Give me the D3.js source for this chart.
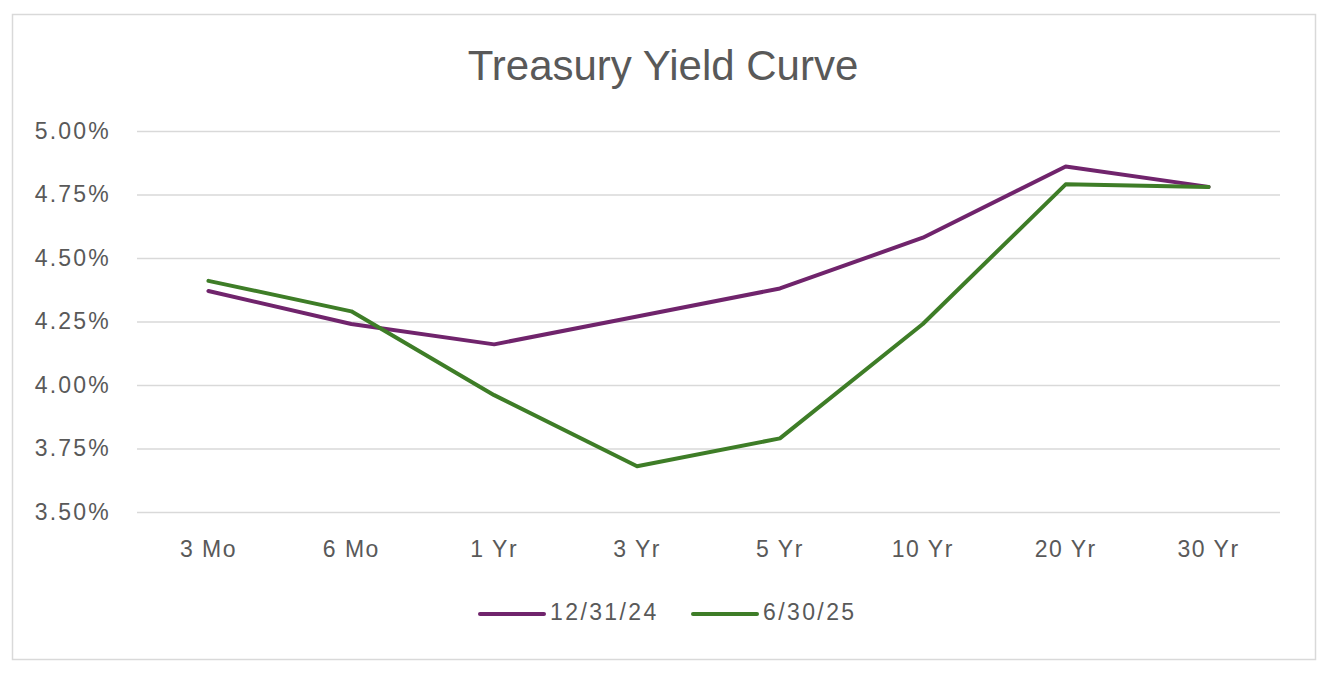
<!DOCTYPE html>
<html>
<head>
<meta charset="utf-8">
<script src="https://cdn.jsdelivr.net/npm/d3@7"></script>
<style>
  body { margin: 0; background: #fff; }
  svg { display: block; font-family: 'Liberation Sans', Arial, sans-serif; }
</style>
</head>
<body>
<div id="chart"></div>
<script>
const categories = ['3 Mo', '6 Mo', '1 Yr', '3 Yr', '5 Yr', '10 Yr', '20 Yr', '30 Yr']
const dec2024 = [4.37, 4.24, 4.16, 4.27, 4.38, 4.58, 4.86, 4.78]
const jun2025 = [4.41, 4.29, 3.96, 3.68, 3.79, 4.24, 4.79, 4.78]
const yTicks = [3.5, 3.75, 4.0, 4.25, 4.5, 4.75, 5.0]
const seriesNames = ['12/31/24', '6/30/25']
const colors = ['#70246c', '#3e7d27']

const W = 1324
const H = 678
const margin = { left: 137, right: 44, top: 131, bottom: 166 }
const width = W - margin.left - margin.right
const height = H - margin.top - margin.bottom

const svg = d3.select('#chart')
  .append('svg')
  .attr('width', W)
  .attr('height', H)

// outer chart border
svg.append('rect')
  .attr('x', 12.5)
  .attr('y', 14.5)
  .attr('width', 1303)
  .attr('height', 645)
  .attr('fill', '#fff')
  .attr('stroke', '#d9d9d9')
  .attr('stroke-width', 1.5)

svg.append('text')
  .attr('x', 663)
  .attr('y', 80)
  .attr('text-anchor', 'middle')
  .attr('font-size', '42px')
  .attr('fill', '#595959')
  .text('Treasury Yield Curve')

const g = svg.append('g')
  .attr('transform', `translate(${margin.left}, ${margin.top})`)

const x = d3.scaleBand()
  .domain(categories)
  .range([0, width])

const y = d3.scaleLinear()
  .domain([3.5, 5.0])
  .range([height, 0])

// gridlines
g.append('g')
  .call(d3.axisLeft(y).tickValues(yTicks).tickSize(-width).tickFormat(''))
  .call(a => a.select('.domain').remove())
  .call(a => a.selectAll('line').attr('stroke', '#d9d9d9').attr('stroke-width', 1.5))

// y axis labels
g.append('g')
  .call(d3.axisLeft(y).tickValues(yTicks).tickSize(0).tickPadding(26).tickFormat(d => d.toFixed(2) + '%'))
  .call(a => a.select('.domain').remove())
  .call(a => a.selectAll('text')
    .attr('font-size', '23px')
    .attr('letter-spacing', '2.2px')
    .attr('fill', '#595959')
    .attr('font-family', "'Liberation Sans', Arial, sans-serif"))

// x axis labels
g.append('g')
  .attr('transform', `translate(0, ${height})`)
  .call(d3.axisBottom(x).tickSize(0).tickPadding(29))
  .call(a => a.select('.domain').remove())
  .call(a => a.selectAll('text')
    .attr('font-size', '23px')
    .attr('letter-spacing', '1.5px')
    .attr('fill', '#595959')
    .attr('font-family', "'Liberation Sans', Arial, sans-serif"))

const line = d3.line()
  .x((d, i) => x(categories[i]) + x.bandwidth() / 2)
  .y(d => y(d))

const series = [dec2024, jun2025]
series.forEach((s, i) => {
  g.append('path')
    .datum(s)
    .attr('fill', 'none')
    .attr('stroke', colors[i])
    .attr('stroke-width', 4)
    .attr('stroke-linejoin', 'round')
    .attr('stroke-linecap', 'round')
    .attr('d', line)
})

// legend
const legendX = [480, 693]
seriesNames.forEach((name, i) => {
  const lg = svg.append('g').attr('transform', `translate(${legendX[i]}, 614)`)
  lg.append('line')
    .attr('x1', 0).attr('x2', 64)
    .attr('stroke', colors[i])
    .attr('stroke-width', 4)
    .attr('stroke-linecap', 'round')
  lg.append('text')
    .attr('x', 70)
    .attr('y', 6)
    .attr('font-size', '23px')
    .attr('letter-spacing', '2.4px')
    .attr('fill', '#595959')
    .text(name)
})
</script>
</body>
</html>
